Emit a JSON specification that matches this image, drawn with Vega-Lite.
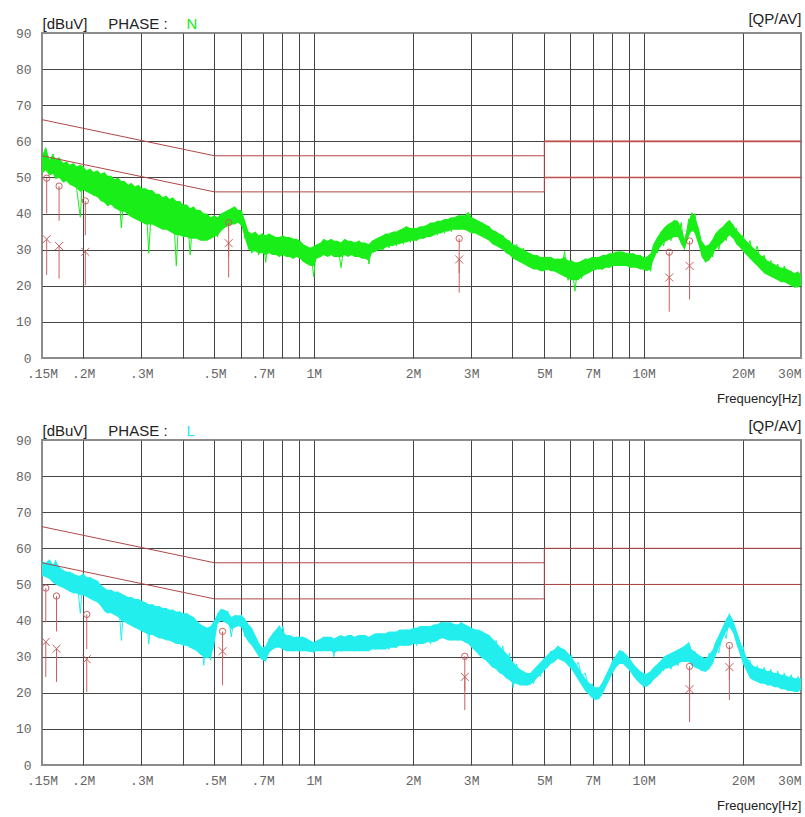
{
"$schema": "https://vega.github.io/schema/vega-lite/v6.json",
"background": "white",
"padding": {"left": 14, "top": 10, "right": 5, "bottom": 5},
"spacing": 11,
"config": {
  "view": {"stroke": "#8c8c8c", "strokeWidth": 2},
  "axis": {"zindex": 0, "labelFont": "Liberation Mono", "labelFontSize": 13, "labelColor": "#666", "titleFont": "Liberation Sans", "titleFontSize": 15, "titleFontWeight": "normal", "titleColor": "#222", "gridColor": "#444", "gridOpacity": 1, "gridWidth": 1, "domain": false, "ticks": false}
},
"datasets": {
  "limitsN": [
    {"seg":"N1","f":0.15,"f2":0.5,"v":66,"v2":56},{"seg":"N2","f":0.5,"f2":5,"v":56,"v2":56},{"seg":"N3","f":5,"f2":30,"v":60,"v2":60},
    {"seg":"N4","f":0.15,"f2":0.5,"v":56,"v2":46},{"seg":"N5","f":0.5,"f2":5,"v":46,"v2":46},{"seg":"N6","f":5,"f2":30,"v":50,"v2":50},
    {"seg":"N7","f":5,"f2":5,"v":46,"v2":60}
  ],
  "limitsL": [
    {"seg":"L1","f":0.15,"f2":0.5,"v":66,"v2":56},{"seg":"L2","f":0.5,"f2":5,"v":56,"v2":56},{"seg":"L3","f":5,"f2":30,"v":60,"v2":60},
    {"seg":"L4","f":0.15,"f2":0.5,"v":56,"v2":46},{"seg":"L5","f":0.5,"f2":5,"v":46,"v2":46},{"seg":"L6","f":5,"f2":30,"v":50,"v2":50},
    {"seg":"L7","f":5,"f2":5,"v":46,"v2":60}
  ],
  "markN": [
    {"f":0.155,"qp":49.8,"qpLo":40,"av":32.9,"avLo":23},
    {"f":0.169,"qp":47.6,"qpLo":38,"av":31,"avLo":22},
    {"f":0.203,"qp":43.5,"qpLo":34,"av":29.4,"avLo":20.2},
    {"f":0.552,"qp":37.5,"qpLo":28,"av":31.8,"avLo":22.3},
    {"f":2.76,"qp":33.1,"qpLo":23.5,"av":27.3,"avLo":18.1},
    {"f":11.96,"qp":29.3,"qpLo":20,"av":22.3,"avLo":12.8},
    {"f":13.78,"qp":32.4,"qpLo":23,"av":25.5,"avLo":16.2}
  ],
  "markL": [
    {"f":0.154,"qp":49,"qpLo":39.5,"av":34.1,"avLo":24.4},
    {"f":0.166,"qp":46.8,"qpLo":37,"av":32.2,"avLo":23},
    {"f":0.205,"qp":41.7,"qpLo":32.1,"av":29.3,"avLo":20.2},
    {"f":0.529,"qp":37,"qpLo":27.5,"av":31.5,"avLo":22.1},
    {"f":2.87,"qp":30.1,"qpLo":20.6,"av":24.4,"avLo":15.2},
    {"f":13.78,"qp":27.3,"qpLo":18,"av":21,"avLo":11.9},
    {"f":18.2,"qp":33.1,"qpLo":23.6,"av":27.1,"avLo":18}
  ],
  "traceN": [
{"f":0.150,"v":55,"hi":56,"lo":51},{"f":0.154,"v":58,"hi":58.5,"lo":52},{"f":0.158,"v":52,"hi":55,"lo":50.5},{"f":0.162,"v":56.5,"hi":56.5,"lo":51},{"f":0.165,"v":50.5,"hi":55,"lo":49.5},
{"f":0.169,"v":55.5,"hi":55.5,"lo":50},{"f":0.174,"v":49,"hi":54,"lo":48.5},{"f":0.178,"v":54,"hi":54.5,"lo":49},{"f":0.182,"v":48.5,"hi":53.5,"lo":48},{"f":0.187,"v":53.5,"hi":54,"lo":47.5},
{"f":0.191,"v":47,"hi":53,"lo":47},{"f":0.196,"v":39,"hi":53.5,"lo":46},{"f":0.200,"v":53,"hi":53,"lo":46.5},{"f":0.205,"v":46,"hi":52,"lo":46},{"f":0.210,"v":52,"hi":52.5,"lo":45.5},
{"f":0.215,"v":45,"hi":51.5,"lo":45},{"f":0.221,"v":51.5,"hi":52,"lo":44.5},{"f":0.226,"v":44,"hi":51,"lo":43.5},{"f":0.232,"v":51,"hi":51.5,"lo":43},{"f":0.237,"v":42.5,"hi":50.5,"lo":42},
{"f":0.243,"v":50,"hi":50.5,"lo":42.5},{"f":0.249,"v":41.5,"hi":49.5,"lo":41.5},{"f":0.255,"v":49.5,"hi":50,"lo":41},{"f":0.261,"v":36,"hi":49,"lo":40.5},{"f":0.267,"v":48.5,"hi":49,"lo":40.5},
{"f":0.274,"v":40,"hi":48,"lo":39.5},{"f":0.280,"v":47.5,"hi":48.5,"lo":39},{"f":0.287,"v":38.5,"hi":47.5,"lo":38.5},{"f":0.294,"v":47.5,"hi":48,"lo":38},{"f":0.301,"v":38,"hi":47,"lo":37.5},
{"f":0.309,"v":46.5,"hi":47,"lo":37},{"f":0.316,"v":29,"hi":46.5,"lo":37},{"f":0.324,"v":46,"hi":46.5,"lo":37},{"f":0.332,"v":37,"hi":45.5,"lo":36.5},{"f":0.340,"v":45,"hi":45.5,"lo":36},
{"f":0.348,"v":36,"hi":44.5,"lo":35.5},{"f":0.357,"v":44.5,"hi":45,"lo":35.5},{"f":0.365,"v":35.5,"hi":44,"lo":35},{"f":0.374,"v":44,"hi":44.5,"lo":34.5},{"f":0.383,"v":25.5,"hi":43.5,"lo":34},
{"f":0.392,"v":43.5,"hi":43.5,"lo":34},{"f":0.402,"v":34,"hi":42.5,"lo":33.5},{"f":0.412,"v":42,"hi":42.5,"lo":33.5},{"f":0.422,"v":28.5,"hi":41.5,"lo":33},{"f":0.432,"v":41.5,"hi":42,"lo":33},
{"f":0.442,"v":33.5,"hi":41,"lo":33},{"f":0.453,"v":40.5,"hi":41,"lo":32.5},{"f":0.464,"v":32.5,"hi":40,"lo":32.5},{"f":0.475,"v":39.5,"hi":40,"lo":32.5},{"f":0.487,"v":33,"hi":39,"lo":33},
{"f":0.499,"v":38.5,"hi":39.5,"lo":33.5},{"f":0.511,"v":33.5,"hi":39,"lo":34},{"f":0.523,"v":39.5,"hi":40,"lo":35},{"f":0.536,"v":36,"hi":40.5,"lo":36},{"f":0.549,"v":41,"hi":41,"lo":36.5},
{"f":0.562,"v":37,"hi":41.5,"lo":37},{"f":0.576,"v":41.5,"hi":42,"lo":37},{"f":0.590,"v":37.5,"hi":41,"lo":37.5},{"f":0.604,"v":40.5,"hi":41,"lo":36.5},{"f":0.619,"v":33,"hi":38,"lo":33},
{"f":0.634,"v":34.5,"hi":35,"lo":30},{"f":0.649,"v":29,"hi":34.5,"lo":29.5},{"f":0.665,"v":34,"hi":35,"lo":29.5},{"f":0.681,"v":28.5,"hi":34,"lo":29},{"f":0.698,"v":34.5,"hi":34.5,"lo":29},
{"f":0.715,"v":26.5,"hi":34,"lo":28.5},{"f":0.732,"v":34,"hi":34.5,"lo":29},{"f":0.750,"v":29,"hi":34,"lo":28.5},{"f":0.768,"v":33.5,"hi":33.5,"lo":28.5},{"f":0.787,"v":28,"hi":33.5,"lo":28},
{"f":0.806,"v":33.5,"hi":34,"lo":28.5},{"f":0.825,"v":28.5,"hi":33.5,"lo":28},{"f":0.845,"v":33,"hi":33.5,"lo":28},{"f":0.866,"v":27.5,"hi":33,"lo":27.5},{"f":0.887,"v":32.5,"hi":33,"lo":28},
{"f":0.909,"v":28,"hi":32.5,"lo":27.5},{"f":0.931,"v":31,"hi":31.5,"lo":26.5},{"f":0.953,"v":26,"hi":31,"lo":26},{"f":0.976,"v":30.5,"hi":30.5,"lo":25.5},{"f":1.00,"v":22.5,"hi":31,"lo":25.5},
{"f":1.02,"v":31,"hi":31.5,"lo":27.5},{"f":1.05,"v":28,"hi":32,"lo":28},{"f":1.07,"v":32.5,"hi":33,"lo":28.5},{"f":1.10,"v":28.5,"hi":32.5,"lo":28},{"f":1.13,"v":32.5,"hi":33,"lo":28.5},
{"f":1.15,"v":28,"hi":32.5,"lo":28},{"f":1.18,"v":32,"hi":32.5,"lo":28},{"f":1.21,"v":25,"hi":32,"lo":28},{"f":1.24,"v":32.5,"hi":33,"lo":28.5},{"f":1.27,"v":28.5,"hi":32.5,"lo":28},
{"f":1.30,"v":32,"hi":32.5,"lo":28.5},{"f":1.33,"v":28,"hi":32,"lo":28},{"f":1.37,"v":32.5,"hi":32.5,"lo":28},{"f":1.40,"v":28,"hi":32,"lo":27.5},{"f":1.43,"v":31.5,"hi":32,"lo":27.5},
{"f":1.47,"v":26,"hi":31.5,"lo":27},{"f":1.50,"v":32,"hi":32.5,"lo":29},{"f":1.54,"v":29.5,"hi":33,"lo":29.5},{"f":1.58,"v":33.5,"hi":33.5,"lo":30},{"f":1.62,"v":30,"hi":34,"lo":30},
{"f":1.65,"v":34,"hi":34.5,"lo":30.5},{"f":1.69,"v":30.5,"hi":34.5,"lo":31},{"f":1.74,"v":34.5,"hi":35,"lo":31},{"f":1.78,"v":31,"hi":35,"lo":31.5},{"f":1.82,"v":35,"hi":35.5,"lo":31.5},
{"f":1.87,"v":31.5,"hi":36,"lo":32},{"f":1.91,"v":36.5,"hi":36.5,"lo":32},{"f":1.96,"v":32,"hi":36,"lo":32.5},{"f":2.00,"v":35,"hi":36,"lo":32.5},{"f":2.05,"v":32.5,"hi":36,"lo":32.5},
{"f":2.10,"v":35.5,"hi":36.5,"lo":33},{"f":2.15,"v":33,"hi":36.5,"lo":33},{"f":2.21,"v":36.5,"hi":37,"lo":33.5},{"f":2.26,"v":33.5,"hi":37.5,"lo":33.5},{"f":2.32,"v":37,"hi":37.5,"lo":34},
{"f":2.37,"v":34,"hi":38,"lo":34.5},{"f":2.43,"v":37.5,"hi":38,"lo":34.5},{"f":2.49,"v":34.5,"hi":38.5,"lo":35},{"f":2.55,"v":38,"hi":38.5,"lo":35},{"f":2.61,"v":35,"hi":39,"lo":35.5},
{"f":2.67,"v":38.5,"hi":39,"lo":35.5},{"f":2.74,"v":35.5,"hi":39.5,"lo":35.5},{"f":2.80,"v":39,"hi":39.5,"lo":35.5},{"f":2.87,"v":35.5,"hi":39.5,"lo":35.5},{"f":2.94,"v":40,"hi":40.5,"lo":35},
{"f":3.01,"v":35,"hi":39,"lo":34.5},{"f":3.09,"v":38.5,"hi":38.5,"lo":34.5},{"f":3.16,"v":34.5,"hi":38,"lo":34},{"f":3.24,"v":37.5,"hi":37.5,"lo":33.5},{"f":3.32,"v":33.5,"hi":37,"lo":33},
{"f":3.40,"v":36.5,"hi":36.5,"lo":32.5},{"f":3.48,"v":32.5,"hi":35.5,"lo":31.5},{"f":3.57,"v":35,"hi":35,"lo":31},{"f":3.65,"v":31,"hi":34.5,"lo":30.5},{"f":3.74,"v":34,"hi":34,"lo":30},
{"f":3.83,"v":30,"hi":33,"lo":29},{"f":3.92,"v":32.5,"hi":32.5,"lo":28.5},{"f":4.02,"v":29,"hi":31.5,"lo":27.5},{"f":4.12,"v":31.5,"hi":31,"lo":27},{"f":4.22,"v":27.5,"hi":30.5,"lo":26.5},
{"f":4.32,"v":30.5,"hi":30,"lo":26},{"f":4.42,"v":26.5,"hi":29.5,"lo":25.5},{"f":4.53,"v":29,"hi":29,"lo":25},{"f":4.64,"v":25.5,"hi":28.5,"lo":24.5},{"f":4.75,"v":28.5,"hi":28.5,"lo":24.5},
{"f":4.87,"v":25,"hi":28,"lo":24},{"f":4.99,"v":28,"hi":28,"lo":24},{"f":5.11,"v":24.5,"hi":28,"lo":24.5},{"f":5.23,"v":28,"hi":28,"lo":24},{"f":5.36,"v":24,"hi":27.5,"lo":24},
{"f":5.49,"v":27.5,"hi":27.5,"lo":23.5},{"f":5.62,"v":24,"hi":27.5,"lo":23},{"f":5.76,"v":29.5,"hi":28,"lo":22.5},{"f":5.90,"v":21.5,"hi":27,"lo":22},{"f":6.04,"v":27,"hi":27,"lo":21.5},
{"f":6.19,"v":18.5,"hi":26.5,"lo":21.5},{"f":6.34,"v":26.5,"hi":26.5,"lo":21.5},{"f":6.49,"v":22,"hi":27,"lo":22.5},{"f":6.65,"v":27.5,"hi":27.5,"lo":23},{"f":6.81,"v":23.5,"hi":27.5,"lo":23.5},
{"f":6.98,"v":28,"hi":28,"lo":24},{"f":7.15,"v":24.5,"hi":28,"lo":24.5},{"f":7.32,"v":28,"hi":28,"lo":24.5},{"f":7.50,"v":24.5,"hi":28.5,"lo":24.5},{"f":7.68,"v":28.5,"hi":28.5,"lo":25},
{"f":7.87,"v":25,"hi":29,"lo":25},{"f":8.06,"v":29,"hi":29,"lo":25.5},{"f":8.25,"v":25.5,"hi":29.5,"lo":25.5},{"f":8.45,"v":29.5,"hi":29.5,"lo":25.5},{"f":8.66,"v":25.5,"hi":29.5,"lo":25.5},
{"f":8.87,"v":29,"hi":29,"lo":25.5},{"f":9.09,"v":25.5,"hi":29,"lo":25},{"f":9.31,"v":29,"hi":29,"lo":25},{"f":9.53,"v":25,"hi":28.5,"lo":25},{"f":9.76,"v":28.5,"hi":28.5,"lo":24.5},
{"f":10.0,"v":24.5,"hi":28,"lo":24.5},{"f":10.2,"v":28,"hi":28,"lo":24},{"f":10.5,"v":24,"hi":29,"lo":24.5},{"f":10.7,"v":31,"hi":31.5,"lo":27},{"f":11.0,"v":29,"hi":33.5,"lo":29.5},
{"f":11.3,"v":35,"hi":35,"lo":31},{"f":11.5,"v":31,"hi":36,"lo":32},{"f":11.8,"v":36.5,"hi":37,"lo":32.5},{"f":12.1,"v":32.5,"hi":37.5,"lo":33},{"f":12.4,"v":38.2,"hi":38.2,"lo":33.5},
{"f":12.7,"v":33.5,"hi":38,"lo":33.5},{"f":13.0,"v":37.5,"hi":36,"lo":31.5},{"f":13.3,"v":30,"hi":33,"lo":30},{"f":13.7,"v":38.5,"hi":38,"lo":33.5},{"f":14.0,"v":35,"hi":40.5,"lo":35.5},
{"f":14.3,"v":40,"hi":39,"lo":34.5},{"f":14.7,"v":33,"hi":36,"lo":31},{"f":15.0,"v":30.5,"hi":32.5,"lo":28},{"f":15.4,"v":26.5,"hi":31,"lo":26.5},{"f":15.8,"v":31,"hi":31.5,"lo":27},
{"f":16.2,"v":28,"hi":33,"lo":28.5},{"f":16.5,"v":34,"hi":34.5,"lo":30},{"f":16.9,"v":30,"hi":35.5,"lo":31},{"f":17.4,"v":35.5,"hi":36.5,"lo":32},{"f":17.8,"v":32.5,"hi":37.5,"lo":33},
{"f":18.2,"v":38.2,"hi":38.2,"lo":34},{"f":18.7,"v":33.5,"hi":37,"lo":33},{"f":19.1,"v":36,"hi":35.5,"lo":31.5},{"f":19.6,"v":31,"hi":34.5,"lo":30.5},{"f":20.0,"v":34,"hi":33.5,"lo":29.5},
{"f":20.5,"v":29.5,"hi":32.5,"lo":28.5},{"f":21.0,"v":32.5,"hi":31.5,"lo":27.5},{"f":21.5,"v":28,"hi":30.5,"lo":26.5},{"f":22.1,"v":31,"hi":29.5,"lo":25.5},{"f":22.6,"v":26.5,"hi":28.5,"lo":24.5},
{"f":23.2,"v":28.5,"hi":28,"lo":23.5},{"f":23.7,"v":23.5,"hi":27,"lo":23},{"f":24.3,"v":27,"hi":26.5,"lo":22.5},{"f":24.9,"v":22.5,"hi":26,"lo":22},{"f":25.5,"v":26,"hi":25.5,"lo":21.5},
{"f":26.1,"v":22,"hi":25,"lo":21},{"f":26.7,"v":25.5,"hi":25,"lo":21},{"f":27.4,"v":20.5,"hi":24.5,"lo":20.5},{"f":28.0,"v":24,"hi":24,"lo":20},{"f":28.7,"v":19.5,"hi":23.5,"lo":19.5},
{"f":29.4,"v":23.5,"hi":24,"lo":19.5},{"f":30.0,"v":21,"hi":23,"lo":20}
  ],
  "traceL": [
{"f":0.150,"v":56,"hi":56.5,"lo":52.5},{"f":0.154,"v":52.5,"hi":56,"lo":52},{"f":0.158,"v":56.5,"hi":57,"lo":51.5},{"f":0.162,"v":51,"hi":55.5,"lo":50.5},{"f":0.165,"v":56.7,"hi":56.7,"lo":50},
{"f":0.169,"v":50,"hi":55,"lo":49.5},{"f":0.174,"v":54,"hi":54,"lo":49},{"f":0.178,"v":48.5,"hi":53.5,"lo":48.5},{"f":0.182,"v":53.5,"hi":53.5,"lo":48},{"f":0.187,"v":48,"hi":53,"lo":47.5},
{"f":0.191,"v":52.5,"hi":52.5,"lo":47.5},{"f":0.196,"v":42,"hi":52.5,"lo":47},{"f":0.200,"v":53,"hi":53,"lo":47},{"f":0.205,"v":47,"hi":52,"lo":46.5},{"f":0.210,"v":52,"hi":52,"lo":46},
{"f":0.215,"v":46.5,"hi":51.5,"lo":45.5},{"f":0.221,"v":51,"hi":51,"lo":45},{"f":0.226,"v":45,"hi":50,"lo":44},{"f":0.232,"v":49,"hi":49,"lo":42.5},{"f":0.237,"v":42,"hi":48.5,"lo":42},
{"f":0.243,"v":48.5,"hi":48.5,"lo":42},{"f":0.249,"v":42.5,"hi":48,"lo":41.5},{"f":0.255,"v":48,"hi":48,"lo":41},{"f":0.261,"v":34.5,"hi":47.5,"lo":40},{"f":0.267,"v":47,"hi":47,"lo":39.5},
{"f":0.274,"v":39,"hi":46.5,"lo":39},{"f":0.280,"v":46.5,"hi":46.5,"lo":38.5},{"f":0.287,"v":38,"hi":46,"lo":38},{"f":0.294,"v":46,"hi":46,"lo":37.5},{"f":0.301,"v":37.5,"hi":45.5,"lo":37},
{"f":0.309,"v":45,"hi":45,"lo":36.5},{"f":0.316,"v":33.5,"hi":44.5,"lo":36},{"f":0.324,"v":44.5,"hi":44.5,"lo":36},{"f":0.332,"v":36,"hi":44,"lo":35.5},{"f":0.340,"v":44,"hi":44,"lo":35},
{"f":0.348,"v":35,"hi":43.5,"lo":35},{"f":0.357,"v":43.5,"hi":43.5,"lo":34.5},{"f":0.365,"v":34.5,"hi":43,"lo":34.5},{"f":0.374,"v":43,"hi":43,"lo":34},{"f":0.383,"v":34,"hi":42.5,"lo":33.5},
{"f":0.392,"v":42.5,"hi":42.5,"lo":33.5},{"f":0.402,"v":33.5,"hi":42,"lo":33},{"f":0.412,"v":42,"hi":42,"lo":33},{"f":0.422,"v":32.5,"hi":41.5,"lo":32.5},{"f":0.432,"v":41,"hi":41,"lo":32},
{"f":0.442,"v":32,"hi":40,"lo":31.5},{"f":0.453,"v":39,"hi":39,"lo":30.5},{"f":0.464,"v":27.6,"hi":38.5,"lo":30},{"f":0.475,"v":38,"hi":38,"lo":29.5},{"f":0.487,"v":29,"hi":38.5,"lo":30},
{"f":0.499,"v":40,"hi":40,"lo":33},{"f":0.511,"v":39.5,"hi":42,"lo":39},{"f":0.523,"v":43,"hi":43.3,"lo":40},{"f":0.536,"v":40,"hi":43,"lo":39.5},{"f":0.549,"v":42.5,"hi":42.5,"lo":39},
{"f":0.562,"v":35.5,"hi":41,"lo":37.5},{"f":0.576,"v":41.5,"hi":41.5,"lo":38},{"f":0.590,"v":38.5,"hi":41.5,"lo":38.5},{"f":0.604,"v":41.5,"hi":41.5,"lo":38},{"f":0.619,"v":35.5,"hi":40.5,"lo":35.5},
{"f":0.634,"v":38.5,"hi":39,"lo":34},{"f":0.649,"v":33.5,"hi":38,"lo":33},{"f":0.665,"v":35,"hi":36,"lo":31.5},{"f":0.681,"v":30.5,"hi":34,"lo":30},{"f":0.698,"v":32,"hi":32.5,"lo":29},
{"f":0.715,"v":28.7,"hi":33,"lo":28.7},{"f":0.732,"v":35,"hi":35,"lo":31},{"f":0.750,"v":32,"hi":36.5,"lo":32},{"f":0.768,"v":37,"hi":37.5,"lo":32.5},{"f":0.787,"v":33,"hi":38.8,"lo":32.5},
{"f":0.806,"v":38.5,"hi":37,"lo":32},{"f":0.825,"v":32,"hi":36,"lo":31.5},{"f":0.845,"v":35.5,"hi":36,"lo":31.5},{"f":0.866,"v":31.5,"hi":35.5,"lo":31.5},{"f":0.887,"v":35.5,"hi":35.5,"lo":31.5},
{"f":0.909,"v":31.5,"hi":35.5,"lo":31.5},{"f":0.931,"v":35,"hi":35.5,"lo":31.5},{"f":0.953,"v":31.5,"hi":35,"lo":31.5},{"f":0.976,"v":34,"hi":34.5,"lo":31.3},{"f":1.00,"v":31,"hi":34,"lo":31.3},
{"f":1.02,"v":34,"hi":34.5,"lo":31.5},{"f":1.05,"v":31.5,"hi":35,"lo":31.5},{"f":1.07,"v":35.5,"hi":35.5,"lo":31.5},{"f":1.10,"v":32,"hi":35.5,"lo":31.5},{"f":1.13,"v":35,"hi":35.5,"lo":31.5},
{"f":1.15,"v":30,"hi":35,"lo":31},{"f":1.18,"v":35.5,"hi":35.5,"lo":31.5},{"f":1.21,"v":31.5,"hi":36,"lo":31.5},{"f":1.24,"v":35.5,"hi":35.5,"lo":31.5},{"f":1.27,"v":32,"hi":36,"lo":31.5},
{"f":1.30,"v":36,"hi":36,"lo":31.5},{"f":1.33,"v":31.5,"hi":35.5,"lo":31.5},{"f":1.37,"v":35.5,"hi":36,"lo":31.5},{"f":1.40,"v":32,"hi":36,"lo":31.5},{"f":1.43,"v":36,"hi":36,"lo":31.5},
{"f":1.47,"v":32,"hi":35.5,"lo":31.5},{"f":1.50,"v":35.5,"hi":36,"lo":32},{"f":1.54,"v":32,"hi":36.5,"lo":32},{"f":1.58,"v":36.5,"hi":36.5,"lo":32},{"f":1.62,"v":32.5,"hi":36.5,"lo":32},
{"f":1.65,"v":36,"hi":36.5,"lo":32},{"f":1.69,"v":32,"hi":37,"lo":32.5},{"f":1.74,"v":36.5,"hi":37,"lo":32.5},{"f":1.78,"v":32.5,"hi":37,"lo":32.5},{"f":1.82,"v":37,"hi":37.5,"lo":33},
{"f":1.87,"v":33,"hi":37.5,"lo":33},{"f":1.91,"v":37.5,"hi":37.5,"lo":33},{"f":1.96,"v":33.5,"hi":37.5,"lo":33},{"f":2.00,"v":37,"hi":38,"lo":33.5},{"f":2.05,"v":33,"hi":38,"lo":33.5},
{"f":2.10,"v":38,"hi":38.5,"lo":33.5},{"f":2.15,"v":34,"hi":38.5,"lo":33.5},{"f":2.21,"v":38.5,"hi":38.5,"lo":34},{"f":2.26,"v":33.5,"hi":38.5,"lo":34},{"f":2.32,"v":38.5,"hi":39,"lo":34},
{"f":2.37,"v":34.5,"hi":39,"lo":34.5},{"f":2.43,"v":39.5,"hi":39.6,"lo":35},{"f":2.49,"v":35,"hi":39.5,"lo":35},{"f":2.55,"v":39,"hi":39.5,"lo":34.5},{"f":2.61,"v":34.5,"hi":39.5,"lo":34.5},
{"f":2.67,"v":39,"hi":39,"lo":34.5},{"f":2.74,"v":34.5,"hi":39,"lo":34.5},{"f":2.80,"v":39.5,"hi":39.5,"lo":34.5},{"f":2.87,"v":34,"hi":39,"lo":34},{"f":2.94,"v":38.5,"hi":38.5,"lo":33.5},
{"f":3.01,"v":33,"hi":38,"lo":32.5},{"f":3.09,"v":37.5,"hi":37.5,"lo":31.5},{"f":3.16,"v":31,"hi":37.5,"lo":30.5},{"f":3.24,"v":37,"hi":37,"lo":29.5},{"f":3.32,"v":29.5,"hi":36.5,"lo":29},
{"f":3.40,"v":36,"hi":36,"lo":28},{"f":3.48,"v":28,"hi":35,"lo":27},{"f":3.57,"v":34.5,"hi":34,"lo":26.5},{"f":3.65,"v":27,"hi":33,"lo":25.5},{"f":3.74,"v":33,"hi":32,"lo":25},
{"f":3.83,"v":25.5,"hi":31,"lo":24},{"f":3.92,"v":31,"hi":30,"lo":23.5},{"f":4.02,"v":21.5,"hi":28.5,"lo":22.5},{"f":4.12,"v":28,"hi":27.5,"lo":22.5},{"f":4.22,"v":22.5,"hi":26.5,"lo":22},
{"f":4.32,"v":25.5,"hi":26,"lo":22},{"f":4.42,"v":22,"hi":25.5,"lo":22},{"f":4.53,"v":25,"hi":25.5,"lo":22.2},{"f":4.64,"v":22.5,"hi":26.5,"lo":23},{"f":4.75,"v":27,"hi":27.5,"lo":24},
{"f":4.87,"v":24.5,"hi":28.5,"lo":25},{"f":4.99,"v":29.5,"hi":29.5,"lo":26},{"f":5.11,"v":27,"hi":30.5,"lo":27},{"f":5.23,"v":31.5,"hi":31.5,"lo":28},{"f":5.36,"v":28.5,"hi":32,"lo":28.5},
{"f":5.49,"v":33,"hi":33,"lo":29.4},{"f":5.62,"v":29.5,"hi":32.5,"lo":29},{"f":5.76,"v":32,"hi":32,"lo":28.5},{"f":5.90,"v":28.5,"hi":31,"lo":27.5},{"f":6.04,"v":30.5,"hi":30,"lo":26.5},
{"f":6.19,"v":26.5,"hi":28.5,"lo":25},{"f":6.34,"v":28.5,"hi":27,"lo":23.5},{"f":6.49,"v":24.5,"hi":25.5,"lo":22},{"f":6.65,"v":25.5,"hi":24,"lo":20.5},{"f":6.81,"v":21.5,"hi":23,"lo":19.5},
{"f":6.98,"v":22.5,"hi":22,"lo":18.5},{"f":7.15,"v":19,"hi":21.5,"lo":18},{"f":7.32,"v":18.5,"hi":21.5,"lo":18.2},{"f":7.50,"v":22,"hi":23,"lo":19.5},{"f":7.68,"v":24.5,"hi":25,"lo":21.5},
{"f":7.87,"v":25,"hi":27,"lo":23.5},{"f":8.06,"v":29,"hi":29,"lo":25.5},{"f":8.25,"v":27.5,"hi":30.5,"lo":27},{"f":8.45,"v":31.8,"hi":31.8,"lo":28},{"f":8.66,"v":28,"hi":31.5,"lo":28},
{"f":8.87,"v":30.5,"hi":30.5,"lo":27},{"f":9.09,"v":26,"hi":29.5,"lo":26},{"f":9.31,"v":28,"hi":28,"lo":24.5},{"f":9.53,"v":23.5,"hi":27,"lo":23.5},{"f":9.76,"v":25.5,"hi":26,"lo":22.5},
{"f":10.0,"v":21.5,"hi":25.5,"lo":21.8},{"f":10.2,"v":24,"hi":25.3,"lo":21.6},{"f":10.5,"v":22.5,"hi":26,"lo":22.5},{"f":10.7,"v":26.5,"hi":27,"lo":23.5},{"f":11.0,"v":24.5,"hi":28,"lo":24.5},
{"f":11.3,"v":29,"hi":29,"lo":25.5},{"f":11.5,"v":26,"hi":30,"lo":26.5},{"f":11.8,"v":30.5,"hi":30.5,"lo":26.7},{"f":12.1,"v":26.5,"hi":31,"lo":27},{"f":12.4,"v":31,"hi":31.5,"lo":27.5},
{"f":12.7,"v":27.5,"hi":32,"lo":28},{"f":13.0,"v":32,"hi":32.5,"lo":28.5},{"f":13.3,"v":28.5,"hi":33,"lo":28.5},{"f":13.7,"v":34,"hi":34,"lo":28.5},{"f":14.0,"v":28,"hi":32,"lo":27.5},
{"f":14.3,"v":31.5,"hi":31.3,"lo":27},{"f":14.7,"v":27,"hi":30.5,"lo":26.5},{"f":15.0,"v":30,"hi":30,"lo":26},{"f":15.4,"v":25.8,"hi":29.5,"lo":25.8},{"f":15.8,"v":31,"hi":30.5,"lo":26.5},
{"f":16.2,"v":28.5,"hi":32,"lo":28},{"f":16.5,"v":33.5,"hi":34,"lo":30},{"f":16.9,"v":31,"hi":36,"lo":32.5},{"f":17.4,"v":37.5,"hi":38.5,"lo":35},{"f":17.8,"v":35,"hi":40.5,"lo":37},
{"f":18.2,"v":41.9,"hi":41.9,"lo":38.2},{"f":18.7,"v":37.5,"hi":40,"lo":36.5},{"f":19.1,"v":37,"hi":37.5,"lo":33.5},{"f":19.6,"v":32,"hi":34.5,"lo":30.5},{"f":20.0,"v":33,"hi":32,"lo":28},
{"f":20.5,"v":28,"hi":30,"lo":26},{"f":21.0,"v":29,"hi":28.5,"lo":24},{"f":21.5,"v":24.5,"hi":27.5,"lo":23.5},{"f":22.1,"v":27.5,"hi":27,"lo":23},{"f":22.6,"v":23.5,"hi":26.7,"lo":22.5},
{"f":23.2,"v":27,"hi":26.5,"lo":22.5},{"f":23.7,"v":23,"hi":26,"lo":22},{"f":24.3,"v":26.5,"hi":26,"lo":22},{"f":24.9,"v":22.5,"hi":25.5,"lo":21.5},{"f":25.5,"v":26,"hi":25.5,"lo":21.5},
{"f":26.1,"v":22,"hi":25,"lo":21},{"f":26.7,"v":25.5,"hi":25,"lo":21},{"f":27.4,"v":21.5,"hi":24.5,"lo":20.5},{"f":28.0,"v":25,"hi":24.5,"lo":20.5},{"f":28.7,"v":21,"hi":24,"lo":20.2},
{"f":29.4,"v":24.5,"hi":24,"lo":20.2},{"f":30.0,"v":22,"hi":24,"lo":21}
  ]
},
"vconcat": [
  {
    "width": 759, "height": 325,
    "layer": [
      {
        "data": {"name": "traceN"},
        "mark": {"type": "area", "color": "#19ee19", "opacity": 1},
        "encoding": {
          "x": {"field": "f", "type": "quantitative", "scale": {"type": "log", "domain": [0.15, 30], "nice": false},
            "axis": {"zindex": 0, "values": [0.15,0.2,0.3,0.4,0.5,0.6,0.7,0.8,0.9,1,2,3,4,5,6,7,8,9,10,20,30],
              "labelExpr": "datum.value == 0.15 ? '.15M' : datum.value == 0.2 ? '.2M' : datum.value == 0.3 ? '.3M' : datum.value == 0.5 ? '.5M' : datum.value == 0.7 ? '.7M' : datum.value == 1 ? '1M' : datum.value == 2 ? '2M' : datum.value == 3 ? '3M' : datum.value == 5 ? '5M' : datum.value == 7 ? '7M' : datum.value == 10 ? '10M' : datum.value == 20 ? '20M' : datum.value == 30 ? '30M' : ''",
              "labelAlign": {"condition": {"test": "datum.value == 30", "value": "right"}, "value": "center"},
              "labelPadding": 9, "labelBound": false, "labelOverlap": false, "labelFlush": false,
              "gridOpacity": {"condition": {"test": "datum.value == 0.15 || datum.value == 30", "value": 0}, "value": 1},
              "title": "Frequency[Hz]", "titleFontSize": 13, "titleAnchor": "end", "titleAlign": "right", "titleBaseline": "alphabetic", "titleX": 759, "titleY": 44}},
          "y": {"field": "hi", "type": "quantitative", "scale": {"domain": [0, 90], "nice": false},
            "axis": {"zindex": 0, "values": [0,10,20,30,40,50,60,70,80,90], "labelPadding": 11,
              "gridOpacity": {"condition": {"test": "datum.value == 0 || datum.value == 90", "value": 0}, "value": 1},
              "title": "[dBuV]\u00a0\u00a0\u00a0\u00a0\u00a0PHASE :", "titleAngle": 0, "titleAlign": "left", "titleBaseline": "alphabetic", "titleX": 0, "titleY": -5}},
          "y2": {"field": "lo"}
        }
      },
      {
        "data": {"name": "traceN"},
        "mark": {"type": "line", "color": "#19ee19", "strokeWidth": 1},
        "encoding": {
          "x": {"field": "f", "type": "quantitative", "axis": {"orient": "top", "labels": false, "grid": false, "title": "N", "titleColor": "#19e619", "titleAngle": 0, "titleAlign": "left", "titleBaseline": "alphabetic", "titleX": 144, "titleY": -5}},
          "y": {"field": "v", "type": "quantitative", "axis": {"orient": "right", "labels": false, "grid": false, "title": "[QP/AV]", "titleAngle": 0, "titleAlign": "right", "titleBaseline": "alphabetic", "titleX": 0, "titleY": -10}}
        }
      },
      {
        "data": {"name": "limitsN"},
        "mark": {"type": "rule", "color": "#b04848", "strokeWidth": 1},
        "encoding": {
          "x": {"field": "f", "type": "quantitative", "axis": null},
          "x2": {"field": "f2"},
          "y": {"field": "v", "type": "quantitative", "axis": null},
          "y2": {"field": "v2"},
          "detail": {"field": "seg"}
        }
      },
      {
        "data": {"name": "limitsN"},
        "transform": [{"filter": {"field": "v", "oneOf": [50, 60]}}],
        "mark": {"type": "rule", "color": "#c05050", "strokeWidth": 1.6},
        "encoding": {
          "x": {"field": "f", "type": "quantitative", "axis": null},
          "x2": {"field": "f2"},
          "y": {"field": "v", "type": "quantitative", "axis": null},
          "y2": {"field": "v2"}
        }
      },
      {
        "data": {"name": "markN"},
        "mark": {"type": "rule", "color": "#c86060", "strokeWidth": 1},
        "encoding": {"x": {"field": "f", "type": "quantitative", "axis": null}, "y": {"field": "qp", "type": "quantitative", "axis": null}, "y2": {"field": "qpLo"}}
      },
      {
        "data": {"name": "markN"},
        "mark": {"type": "rule", "color": "#c86060", "strokeWidth": 1},
        "encoding": {"x": {"field": "f", "type": "quantitative", "axis": null}, "y": {"field": "av", "type": "quantitative", "axis": null}, "y2": {"field": "avLo"}}
      },
      {
        "data": {"name": "markN"},
        "mark": {"type": "point", "shape": "circle", "filled": false, "size": 40, "color": "#c86060", "strokeWidth": 1, "opacity": 1},
        "encoding": {"x": {"field": "f", "type": "quantitative", "axis": null}, "y": {"field": "qp", "type": "quantitative", "axis": null}}
      },
      {
        "data": {"name": "markN"},
        "mark": {"type": "point", "shape": "M-1,-1L1,1M1,-1L-1,1", "filled": false, "size": 64, "color": "#c86060", "strokeWidth": 1, "opacity": 1},
        "encoding": {"x": {"field": "f", "type": "quantitative", "axis": null}, "y": {"field": "av", "type": "quantitative", "axis": null}}
      }
    ],
    "resolve": {"axis": {"x": "independent", "y": "independent"}}
  },
  {
    "width": 759, "height": 325,
    "layer": [
      {
        "data": {"name": "traceL"},
        "mark": {"type": "area", "color": "#22eeee", "opacity": 1},
        "encoding": {
          "x": {"field": "f", "type": "quantitative", "scale": {"type": "log", "domain": [0.15, 30], "nice": false},
            "axis": {"zindex": 0, "values": [0.15,0.2,0.3,0.4,0.5,0.6,0.7,0.8,0.9,1,2,3,4,5,6,7,8,9,10,20,30],
              "labelExpr": "datum.value == 0.15 ? '.15M' : datum.value == 0.2 ? '.2M' : datum.value == 0.3 ? '.3M' : datum.value == 0.5 ? '.5M' : datum.value == 0.7 ? '.7M' : datum.value == 1 ? '1M' : datum.value == 2 ? '2M' : datum.value == 3 ? '3M' : datum.value == 5 ? '5M' : datum.value == 7 ? '7M' : datum.value == 10 ? '10M' : datum.value == 20 ? '20M' : datum.value == 30 ? '30M' : ''",
              "labelAlign": {"condition": {"test": "datum.value == 30", "value": "right"}, "value": "center"},
              "labelPadding": 9, "labelBound": false, "labelOverlap": false, "labelFlush": false,
              "gridOpacity": {"condition": {"test": "datum.value == 0.15 || datum.value == 30", "value": 0}, "value": 1},
              "title": "Frequency[Hz]", "titleFontSize": 13, "titleAnchor": "end", "titleAlign": "right", "titleBaseline": "alphabetic", "titleX": 759, "titleY": 44}},
          "y": {"field": "hi", "type": "quantitative", "scale": {"domain": [0, 90], "nice": false},
            "axis": {"zindex": 0, "values": [0,10,20,30,40,50,60,70,80,90], "labelPadding": 11,
              "gridOpacity": {"condition": {"test": "datum.value == 0 || datum.value == 90", "value": 0}, "value": 1},
              "title": "[dBuV]\u00a0\u00a0\u00a0\u00a0\u00a0PHASE :", "titleAngle": 0, "titleAlign": "left", "titleBaseline": "alphabetic", "titleX": 0, "titleY": -5}},
          "y2": {"field": "lo"}
        }
      },
      {
        "data": {"name": "traceL"},
        "mark": {"type": "line", "color": "#22eeee", "strokeWidth": 1},
        "encoding": {
          "x": {"field": "f", "type": "quantitative", "axis": {"orient": "top", "labels": false, "grid": false, "title": "L", "titleColor": "#22e6ee", "titleAngle": 0, "titleAlign": "left", "titleBaseline": "alphabetic", "titleX": 144, "titleY": -5}},
          "y": {"field": "v", "type": "quantitative", "axis": {"orient": "right", "labels": false, "grid": false, "title": "[QP/AV]", "titleAngle": 0, "titleAlign": "right", "titleBaseline": "alphabetic", "titleX": 0, "titleY": -10}}
        }
      },
      {
        "data": {"name": "limitsL"},
        "mark": {"type": "rule", "color": "#b04848", "strokeWidth": 1},
        "encoding": {
          "x": {"field": "f", "type": "quantitative", "axis": null},
          "x2": {"field": "f2"},
          "y": {"field": "v", "type": "quantitative", "axis": null},
          "y2": {"field": "v2"},
          "detail": {"field": "seg"}
        }
      },
      {
        "data": {"name": "markL"},
        "mark": {"type": "rule", "color": "#c86060", "strokeWidth": 1},
        "encoding": {"x": {"field": "f", "type": "quantitative", "axis": null}, "y": {"field": "qp", "type": "quantitative", "axis": null}, "y2": {"field": "qpLo"}}
      },
      {
        "data": {"name": "markL"},
        "mark": {"type": "rule", "color": "#c86060", "strokeWidth": 1},
        "encoding": {"x": {"field": "f", "type": "quantitative", "axis": null}, "y": {"field": "av", "type": "quantitative", "axis": null}, "y2": {"field": "avLo"}}
      },
      {
        "data": {"name": "markL"},
        "mark": {"type": "point", "shape": "circle", "filled": false, "size": 40, "color": "#c86060", "strokeWidth": 1, "opacity": 1},
        "encoding": {"x": {"field": "f", "type": "quantitative", "axis": null}, "y": {"field": "qp", "type": "quantitative", "axis": null}}
      },
      {
        "data": {"name": "markL"},
        "mark": {"type": "point", "shape": "M-1,-1L1,1M1,-1L-1,1", "filled": false, "size": 64, "color": "#c86060", "strokeWidth": 1, "opacity": 1},
        "encoding": {"x": {"field": "f", "type": "quantitative", "axis": null}, "y": {"field": "av", "type": "quantitative", "axis": null}}
      }
    ],
    "resolve": {"axis": {"x": "independent", "y": "independent"}}
  }
]
}
